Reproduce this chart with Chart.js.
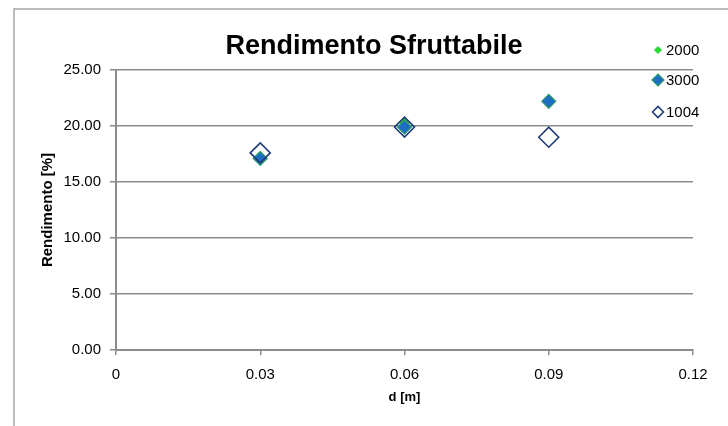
<!DOCTYPE html>
<html>
<head>
<meta charset="utf-8">
<script src="https://cdn.jsdelivr.net/npm/chart.js@4/dist/chart.umd.min.js"></script>
<style>
  html, body { margin: 0; padding: 0; background: #fff; }
  #wrap { width: 728px; height: 426px; }
</style>
</head>
<body>
<div id="wrap"><canvas id="chart" width="728" height="426"></canvas></div>
<script>
const chartTitle = "Rendimento Sfruttabile";
const xTitle = "d [m]";
const yTitle = "Rendimento [%]";

const seriesLabels = ["2000", "3000", "1004"];
const xValues = [0.03, 0.06, 0.09];
const values2000 = [17.3, 20.3, 22.3];
const values3000 = [17.1, 19.9, 22.2];
const values1004 = [17.6, 19.9, 19.0];

const xTicks = [0, 0.03, 0.06, 0.09, 0.12];
const yTicks = [0, 5, 10, 15, 20, 25];

const gridColor = "#8c8c8c";

function toPoints(ys) {
  return xValues.map((x, i) => ({ x: x, y: ys[i] }));
}

// marker look per series: used by the chart and the hand-drawn legend
const markers = [
  { fill: "#22dd22", stroke: "#33cc55", radius: 5, legendRadius: 3.5, width: 1 },
  { fill: "#1e6ec4", stroke: "#2e9a6a", radius: 7, legendRadius: 6, width: 1.2 },
  { fill: "rgba(255,255,255,0)", stroke: "#1f3b7a", radius: 10, legendRadius: 5.5, width: 1.6 }
];

const seriesValues = [values2000, values3000, values1004];

function diamond(ctx, x, y, r) {
  ctx.beginPath();
  ctx.moveTo(x - r, y);
  ctx.lineTo(x, y - r);
  ctx.lineTo(x + r, y);
  ctx.lineTo(x, y + r);
  ctx.closePath();
}

// frame, title and legend drawn straight on the canvas
const decorations = {
  id: "decorations",
  beforeDraw(chart) {
    const ctx = chart.ctx;
    ctx.save();
    ctx.fillStyle = "#fff";
    ctx.fillRect(0, 0, chart.width, chart.height);
    ctx.strokeStyle = "#a6a6a6";
    ctx.lineWidth = 1.5;
    ctx.beginPath();
    ctx.moveTo(14, chart.height);
    ctx.lineTo(14, 9);
    ctx.lineTo(chart.width, 9);
    ctx.stroke();
    ctx.restore();
  },
  afterDraw(chart) {
    const ctx = chart.ctx;
    ctx.save();
    ctx.fillStyle = "#000";
    ctx.font = "bold 27px 'Liberation Sans'";
    ctx.textAlign = "center";
    ctx.textBaseline = "middle";
    ctx.fillText(chartTitle, 374, 47);

    const rows = [50, 80, 112];
    ctx.font = "15px 'Liberation Sans'";
    ctx.textAlign = "left";
    seriesLabels.forEach((label, i) => {
      const m = markers[i];
      diamond(ctx, 658, rows[i], m.legendRadius);
      ctx.fillStyle = m.fill;
      ctx.fill();
      ctx.strokeStyle = m.stroke;
      ctx.lineWidth = m.width;
      ctx.stroke();
      ctx.fillStyle = "#000";
      ctx.fillText(label, 666, rows[i] + 1);
    });
    ctx.restore();
  }
};

new Chart(document.getElementById("chart"), {
  type: "scatter",
  data: {
    datasets: seriesLabels.map((label, i) => ({
      label: label,
      data: toPoints(seriesValues[i]),
      pointStyle: "rectRot",
      pointRadius: markers[i].radius,
      pointHoverRadius: markers[i].radius,
      backgroundColor: markers[i].fill,
      borderColor: markers[i].stroke,
      borderWidth: markers[i].width,
      order: 3 - i
    }))
  },
  options: {
    responsive: false,
    animation: false,
    layout: { padding: { left: 14, right: 35, top: 70, bottom: 0 } },
    plugins: {
      legend: { display: false },
      title: { display: false },
      tooltip: { enabled: false }
    },
    scales: {
      x: {
        type: "linear",
        min: 0,
        max: 0.12,
        afterBuildTicks: (s) => { s.ticks = xTicks.map(v => ({ value: v })); },
        afterFit: (s) => { s.height = 76; },
        ticks: {
          color: "#000",
          font: { family: "'Liberation Sans'", size: 15 },
          padding: 11,
          callback: (v) => v === 0 ? "0" : v.toFixed(2)
        },
        grid: { drawOnChartArea: false, drawTicks: true, tickLength: 5, color: gridColor, lineWidth: 1.5 },
        border: { display: true, color: gridColor, width: 2 },
        title: {
          display: true,
          text: xTitle,
          color: "#000",
          font: { family: "'Liberation Sans'", size: 13, weight: "bold" },
          padding: { top: 0, bottom: 21 }
        }
      },
      y: {
        min: 0,
        max: 25,
        afterBuildTicks: (s) => { s.ticks = yTicks.map(v => ({ value: v })); },
        afterFit: (s) => { s.width = 102; },
        ticks: {
          color: "#000",
          font: { family: "'Liberation Sans'", size: 15 },
          padding: 9,
          callback: (v) => v.toFixed(2)
        },
        grid: { color: gridColor, lineWidth: 1.5, tickLength: 6 },
        border: { display: true, color: gridColor, width: 2 },
        title: {
          display: true,
          text: yTitle,
          color: "#000",
          font: { family: "'Liberation Sans'", size: 15, weight: "bold" },
          padding: { top: 25, bottom: 0 }
        }
      }
    }
  },
  plugins: [decorations]
});
</script>
</body>
</html>
